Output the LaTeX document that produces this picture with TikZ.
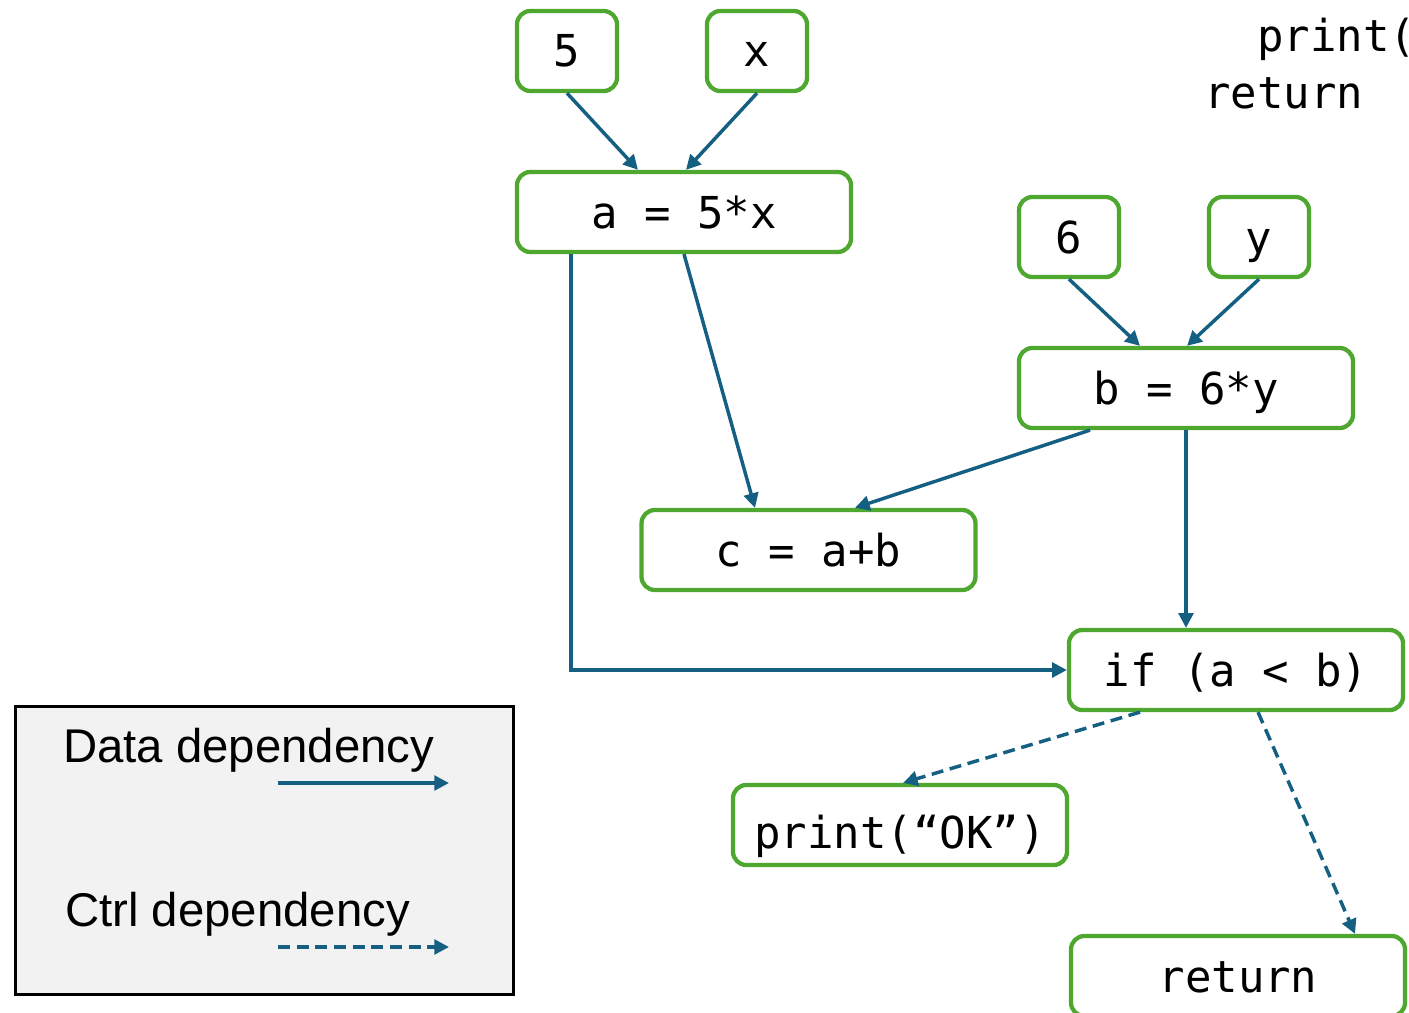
\documentclass[tikz,border=0pt]{standalone}
\usepackage{fontspec}
\setmainfont{Liberation Sans}
\newfontfamily\codefont{DejaVu Sans Mono}
\usetikzlibrary{arrows.meta,calc}
\definecolor{boxgreen}{HTML}{4EA72E}
\definecolor{arrowblue}{HTML}{156082}
\definecolor{legendfill}{HTML}{F2F2F2}
\begin{document}
\begin{tikzpicture}[x=0.75pt,y=-0.75pt,
  codetext/.style={font=\codefont\fontsize{33}{40}\selectfont},
  codebox/.style={codetext, draw=boxgreen, line width=3.2pt, rounded corners=10pt, fill=white,
    inner sep=0pt, minimum height=60pt, text height=24pt, text depth=0pt},
  smallbox/.style={codebox, minimum width=75pt},
  widebox/.style={codebox, minimum width=250.5pt},
  dataarrow/.style={draw=arrowblue, line width=2.6pt, -{Triangle[length=11pt,width=11pt]}},
  ctrlarrow/.style={dataarrow, dash pattern=on 9pt off 5pt},
  legendtext/.style={anchor=base west, font=\fontsize{35.5}{40}\selectfont}]
\useasboundingbox (0,0) rectangle (1409,1013);

% code fragment (top right)
\node[codetext, anchor=base west, inner sep=0pt] (codeprint) at (1257,52) {print(};
\node[codetext, anchor=base west, inner sep=0pt] (codereturn) at (1204,109) {return};

% nodes
\node[smallbox] (n5) at (567,51) {5};
\node[smallbox] (nx) at (757,51) {x};
\node[widebox] (a) at (684,212) {a = 5*x};
\node[smallbox] (n6) at (1069,237) {6};
\node[smallbox] (ny) at (1259,237) {y};
\node[widebox] (b) at (1186,388) {b = 6*y};
\node[widebox] (c) at (808.5,550) {c = a+b};
\node[widebox] (if) at (1236,670) {if (a < b)};
\node[widebox, text height=34.5pt] (print) at (900,825) {print(“OK”)};
\node[widebox] (ret) at (1238,976) {return};

% data dependencies
\draw[dataarrow] (n5.south) -- ($(a.north)+(-46,0)$);
\draw[dataarrow] (nx.south) -- ($(a.north)+(2,0)$);
\draw[dataarrow] (a.south) -- ($(c.north)+(-53.5,0)$);
\draw[dataarrow] ($(a.south)+(-113,0)$) |- (if.west);
\draw[dataarrow] (n6.south) -- ($(b.north)+(-46,0)$);
\draw[dataarrow] (ny.south) -- ($(b.north)+(1,0)$);
\draw[dataarrow] ($(b.south)+(-96,0)$) -- ($(c.north)+(46.5,0)$);
\draw[dataarrow] (b.south) -- ($(if.north)+(-50,0)$);

% control dependencies
\draw[ctrlarrow] ($(if.south)+(-96,0)$) -- ($(print.north)+(3,0)$);
\draw[ctrlarrow] ($(if.south)+(22,0)$) -- ($(ret.north)+(117,0)$);

% legend
\node[draw=black, line width=2.25pt, fill=legendfill, minimum width=373.5pt, minimum height=216pt,
  inner sep=0pt] (legend) at (264.5,850.5) {};
\node[legendtext, inner sep=0pt] (datalbl) at (63,762) {Data dependency};
\node[legendtext, inner sep=0pt] (ctrllbl) at (65,926) {Ctrl dependency};
\coordinate (d1) at (278,783);
\coordinate (d2) at (449,783);
\coordinate (c1) at (278,947);
\coordinate (c2) at (449,947);
\draw[dataarrow] (d1) -- (d2);
\draw[ctrlarrow] (c1) -- (c2);
\end{tikzpicture}
\end{document}
